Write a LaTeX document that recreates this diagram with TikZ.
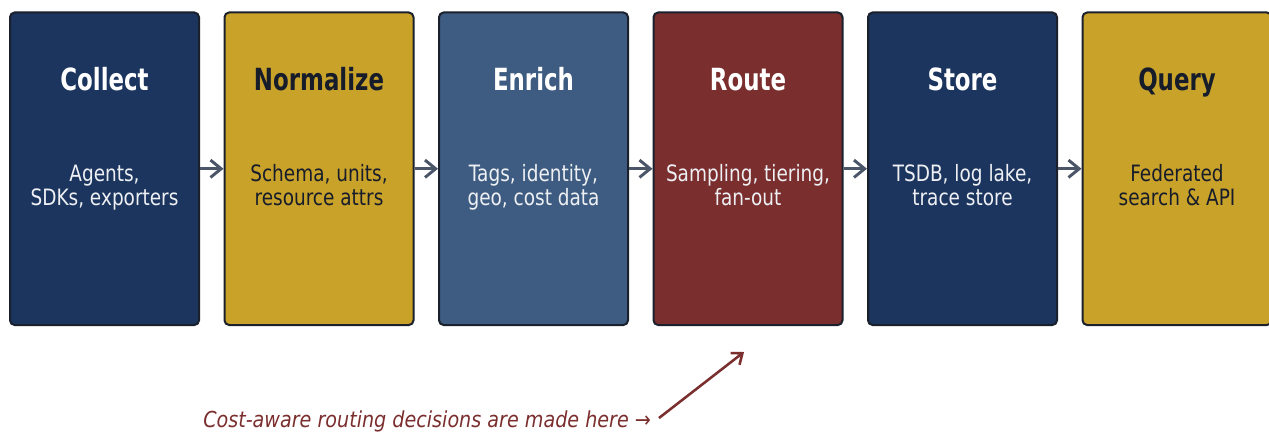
\documentclass[tikz,border=0pt]{standalone}
\usepackage{fontspec}
\usetikzlibrary{arrows.meta}

% Condensed DejaVu faces for titles, descriptions and the note
\newfontfamily\headfont[FakeStretch=0.75]{DejaVu Sans}
\newfontfamily\bodyfont[FakeStretch=0.82]{DejaVu Sans}
\newfontfamily\notefont[FakeStretch=0.87]{DejaVu Sans}

\definecolor{navy}{HTML}{1C355E}
\definecolor{gold}{HTML}{C9A22A}
\definecolor{steel}{HTML}{3E5C81}
\definecolor{wine}{HTML}{7A2E2E}
\definecolor{edgecol}{HTML}{1A202C}
\definecolor{flowgray}{HTML}{4A5568}
\definecolor{inkdark}{HTML}{161C2A}
\definecolor{inklight}{HTML}{EEF0F4}
\definecolor{notecol}{HTML}{7B2E2E}

\tikzset{
  stage/.style={draw=edgecol, line width=1.5pt, rounded corners=3.5pt,
    minimum width=141.75pt, minimum height=234.4pt, inner sep=0pt},
  stitle/.style={anchor=base, inner sep=0pt,
    font=\headfont\bfseries\fontsize{22.9}{27}\selectfont},
  % multi-line: the base anchor sits on the last line
  sbody/.style={anchor=base, inner sep=0pt, align=center,
    font=\bodyfont\fontsize{16.9}{18.4}\selectfont},
  flow/.style={draw=flowgray, line width=2.2pt,
    -{Straight Barb[length=8pt,width=13pt]}},
  note/.style={draw=notecol, line width=1.9pt,
    -{Straight Barb[length=7pt,width=11pt]}},
}

\begin{document}
\begin{tikzpicture}[x=0.75pt,y=-0.75pt]
  \useasboundingbox (0,0) rectangle (1269,432);
  \clip (0,0) rectangle (1269,432);
  \fill[white] (0,0) rectangle (1269,432);

  % pipeline stages
  \node[stage, fill=navy]  (collect)   at (104.5,168.75) {};
  \node[stage, fill=gold]  (normalize) at (319,168.75)   {};
  \node[stage, fill=steel] (enrich)    at (533.5,168.75) {};
  \node[stage, fill=wine]  (route)     at (748,168.75)   {};
  \node[stage, fill=navy]  (store)     at (962.5,168.75) {};
  \node[stage, fill=gold]  (query)     at (1177,168.75)  {};

  % stage titles
  \node[stitle, text=white]   (tcollect)   at (104.5,90.7) {Collect};
  \node[stitle, text=inkdark] (tnormalize) at (319,90.7)   {Normalize};
  \node[stitle, text=white]   (tenrich)    at (533.5,90.7) {Enrich};
  \node[stitle, text=white]   (troute)     at (748,90.7)   {Route};
  \node[stitle, text=white]   (tstore)     at (962.5,90.7) {Store};
  \node[stitle, text=inkdark] (tquery)     at (1177,90.7)  {Query};

  % stage descriptions
  \node[sbody, text=inklight] (dcollect)   at (104.5,205.9) {Agents,\\SDKs, exporters};
  \node[sbody, text=inkdark]  (dnormalize) at (319,205.9)   {Schema, units,\\resource attrs};
  \node[sbody, text=inklight] (denrich)    at (533.5,205.9) {Tags, identity,\\geo, cost data};
  \node[sbody, text=inklight] (droute)     at (748,205.9)   {Sampling, tiering,\\fan-out};
  \node[sbody, text=inklight] (dstore)     at (962.5,205.9) {TSDB, log lake,\\trace store};
  \node[sbody, text=inkdark]  (dquery)     at (1177,205.9)  {Federated\\search \& API};

  % flow between stages
  \draw[flow] (collect.east)   -- (normalize.west);
  \draw[flow] (normalize.east) -- (enrich.west);
  \draw[flow] (enrich.east)    -- (route.west);
  \draw[flow] (route.east)     -- (store.west);
  \draw[flow] (store.east)     -- (query.west);

  % annotation pointing at the routing stage
  \node[anchor=base west, inner sep=0pt, text=notecol,
        font=\notefont\itshape\fontsize{16.5}{19}\selectfont]
        (costnote) at (203,427) {Cost-aware routing decisions are made here →};
  \coordinate (notestart) at (659,418);
  \coordinate (routepin)  at (744,352);
  \draw[note] (notestart) -- (routepin);
\end{tikzpicture}
\end{document}
